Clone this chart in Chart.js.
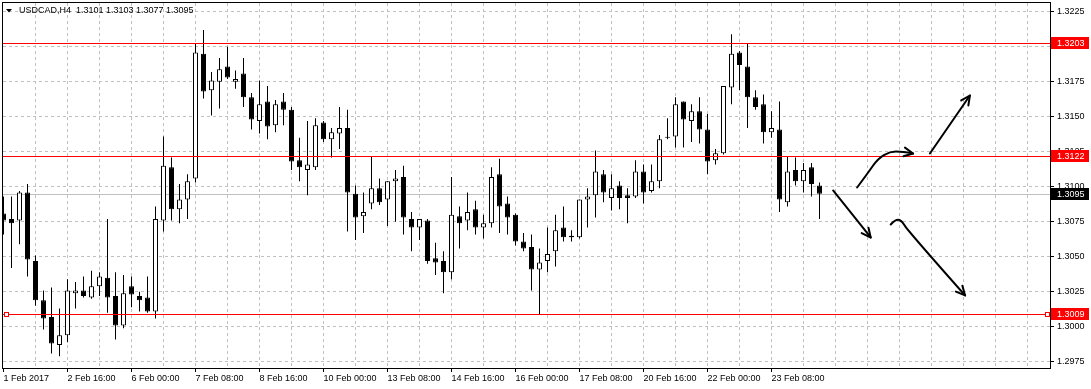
<!DOCTYPE html>
<html><head><meta charset="utf-8">
<script src="https://cdn.jsdelivr.net/npm/chart.js@4.4.1/dist/chart.umd.min.js"></script>
<style>html,body{margin:0;padding:0;background:#fff;}canvas{display:block;}</style>
</head><body>
<canvas id="c" width="1091" height="389"></canvas>
<script>
const symbolTitle = "USDCAD,H4  1.3101 1.3103 1.3077 1.3095";
const xTickLabels = ["1 Feb 2017","2 Feb 16:00","6 Feb 00:00","7 Feb 08:00","8 Feb 16:00","10 Feb 00:00","13 Feb 08:00","14 Feb 16:00","16 Feb 00:00","17 Feb 08:00","20 Feb 16:00","22 Feb 00:00","23 Feb 08:00"];
const yTicks = [1.2975,1.3000,1.3025,1.3050,1.3075,1.3100,1.3125,1.3150,1.3175,1.3200,1.3225];

const opens = [1.3081,1.3077,1.3076,1.3096,1.3047,1.3019,1.3007,1.2987,1.2994,1.3024,
1.3026,1.3021,1.3029,1.3035,1.3022,1.3001,1.3029,1.3022,1.3021,1.3011,
1.3076,1.3114,1.3084,1.3091,1.3106,1.3195,1.3169,1.3175,1.3186,1.3175,
1.3181,1.3164,1.3147,1.3161,1.3144,1.3161,1.3155,1.3119,1.3112,1.3114,
1.3146,1.3134,1.3138,1.3142,1.3095,1.3079,1.3088,1.3099,1.3091,1.3104,
1.3107,1.3077,1.3071,1.3076,1.3049,1.3047,1.3039,1.3079,1.3076,1.3084,
1.3071,1.3074,1.3109,1.3088,1.3080,1.3061,1.3057,1.3041,1.3047,1.3054,
1.3071,1.3065,1.3064,1.3091,1.3094,1.3109,1.3092,1.3101,1.3094,1.3093,
1.3111,1.3097,1.3104,1.3135,1.3136,1.3161,1.3147,1.3154,1.3141,1.3119,
1.3124,1.3171,1.3196,1.3186,1.3164,1.3159,1.3139,1.3141,1.3089,1.3112,
1.3104,1.3114,1.3101];
const highs = [1.3093,1.3093,1.3097,1.3102,1.3051,1.3026,1.3028,1.3013,1.3034,1.3032,
1.3036,1.3040,1.3039,1.3077,1.3039,1.3037,1.3036,1.3025,1.3036,1.3086,
1.3136,1.3121,1.3102,1.3109,1.3202,1.3212,1.3182,1.3192,1.3200,1.3183,
1.3192,1.3167,1.3176,1.3172,1.3162,1.3167,1.3157,1.3135,1.3147,1.3149,
1.3147,1.3142,1.3157,1.3155,1.3101,1.3096,1.3122,1.3106,1.3104,1.3112,
1.3115,1.3082,1.3077,1.3077,1.3060,1.3054,1.3107,1.3086,1.3096,1.3090,
1.3080,1.3114,1.3120,1.3093,1.3081,1.3067,1.3066,1.3056,1.3071,1.3080,
1.3086,1.3069,1.3091,1.3099,1.3126,1.3112,1.3109,1.3104,1.3099,1.3119,
1.3116,1.3116,1.3137,1.3149,1.3164,1.3161,1.3159,1.3164,1.3152,1.3127,
1.3172,1.3209,1.3197,1.3202,1.3169,1.3166,1.3154,1.3161,1.3122,1.3121,
1.3117,1.3117,1.3103];
const lows = [1.3066,1.3042,1.3059,1.3036,1.3015,1.2998,1.2981,1.2979,1.2989,1.3013,
1.3021,1.3020,1.3022,1.3010,1.2991,1.2999,1.3014,1.3011,1.3010,1.3006,
1.3068,1.3076,1.3074,1.3077,1.3103,1.3163,1.3151,1.3156,1.3177,1.3170,
1.3157,1.3141,1.3138,1.3134,1.3139,1.3144,1.3112,1.3104,1.3094,1.3112,
1.3132,1.3121,1.3127,1.3068,1.3062,1.3067,1.3084,1.3087,1.3072,1.3075,
1.3066,1.3054,1.3062,1.3045,1.3037,1.3024,1.3034,1.3056,1.3069,1.3066,
1.3063,1.3071,1.3067,1.3066,1.3058,1.3054,1.3026,1.3009,1.3039,1.3043,
1.3061,1.3061,1.3063,1.3071,1.3078,1.3089,1.3083,1.3084,1.3074,1.3092,
1.3088,1.3096,1.3099,1.3134,1.3128,1.3128,1.3132,1.3131,1.3109,1.3116,
1.3123,1.3159,1.3169,1.3142,1.3155,1.3131,1.3135,1.3082,1.3086,1.3101,
1.3096,1.3093,1.3077];
const closes = [1.3076,1.3074,1.3096,1.3048,1.3019,1.3006,1.2988,1.2994,1.3026,1.3026,
1.3022,1.3029,1.3036,1.3021,1.3001,1.3024,1.3023,1.3019,1.3011,1.3077,
1.3115,1.3084,1.3091,1.3104,1.3196,1.3168,1.3176,1.3184,1.3178,1.3177,
1.3164,1.3148,1.3159,1.3143,1.3159,1.3155,1.3118,1.3114,1.3116,1.3144,
1.3134,1.3139,1.3142,1.3096,1.3078,1.3082,1.3099,1.3089,1.3104,1.3106,
1.3078,1.3071,1.3077,1.3047,1.3046,1.3039,1.3080,1.3074,1.3082,1.3071,
1.3074,1.3107,1.3086,1.3078,1.3061,1.3056,1.3041,1.3046,1.3052,1.3069,
1.3064,1.3064,1.3091,1.3093,1.3111,1.3096,1.3099,1.3092,1.3092,1.3111,
1.3096,1.3104,1.3134,1.3135,1.3159,1.3148,1.3154,1.3141,1.3118,1.3124,
1.3172,1.3195,1.3187,1.3164,1.3157,1.3139,1.3142,1.3091,1.3111,1.3104,
1.3112,1.3102,1.3095];

const levelLines = [1.3203, 1.3122, 1.3009];
const selectedLevel = 1.3009;
const bidPrice = 1.3095;

// hand-drawn arrows, in (bar index, price) coordinates
const arrowPaths = [
  [[103.7,1.30974],[108.4,1.30638]],
  [[106.7,1.30995],[108.1,1.31102],[109.3,1.31202],[110.8,1.31252],[112.3,1.31252],[113.7,1.31238]],
  [[115.8,1.31238],[120.8,1.31652]],
  [[110.9,1.30731],[111.6,1.30774],[112.4,1.30752],[112.9,1.30695],[120.2,1.30224]]
];

const FONT = "'Liberation Sans', Arial, sans-serif";
const gridIdx = [];
for (let i = 0; i <= 128; i += 4) gridIdx.push(i);

const bodyData = opens.map((o, i) => ({x: i, y: [o, closes[i]]}));
const wickData = lows.map((l, i) => ({x: i, y: [l, highs[i]]}));

const overlay = {
  id: 'overlay',
  beforeDatasetsDraw(chart) {
    const {ctx, chartArea: a, scales: {y}} = chart;
    ctx.save();
    const py = Math.round(y.getPixelForValue(bidPrice));
    ctx.fillStyle = '#c0c0c0';
    ctx.fillRect(a.left, py, a.right - a.left, 1);
    ctx.restore();
  },
  afterDatasetsDraw(chart) {
    const {ctx, chartArea: a, scales: {y}} = chart;
    ctx.save();
    ctx.fillStyle = 'rgb(255,0,0)';
    levelLines.forEach(v => {
      const py = Math.round(y.getPixelForValue(v));
      ctx.fillRect(a.left, py, a.right - a.left, 1);
    });
    const sy = Math.round(y.getPixelForValue(selectedLevel));
    [a.left + 1, a.right - 5].forEach(sx => {
      ctx.fillStyle = 'rgb(255,0,0)';
      ctx.fillRect(sx, sy - 2, 5, 5);
      ctx.fillStyle = '#ffffff';
      ctx.fillRect(sx + 1, sy - 1, 3, 3);
    });
    ctx.restore();
  },
  afterDraw(chart) {
    const {ctx, chartArea: a, scales: {x, y}} = chart;
    ctx.save();
    // frame
    ctx.strokeStyle = '#000'; ctx.lineWidth = 1;
    ctx.strokeRect(a.left - 0.5, a.top - 0.5, a.right - a.left + 1, a.bottom - a.top + 1);
    // title
    ctx.fillStyle = '#000';
    ctx.beginPath(); ctx.moveTo(6, 9); ctx.lineTo(12, 9); ctx.lineTo(9, 12.5); ctx.closePath(); ctx.fill();
    ctx.font = '9px ' + FONT; ctx.textBaseline = 'middle'; ctx.textAlign = 'left';
    ctx.fillText(symbolTitle, 19, 11);
    // price tags
    const tag = (v, bg) => {
      const py = Math.round(y.getPixelForValue(v));
      ctx.fillStyle = bg; ctx.fillRect(a.right + 1, py - 6, 38, 12);
      ctx.fillStyle = '#fff'; ctx.fillText(v.toFixed(4), a.right + 7, py + 0.5);
    };
    tag(bidPrice, '#000');
    levelLines.forEach(v => tag(v, 'rgb(255,0,0)'));
    // arrows
    ctx.strokeStyle = '#000'; ctx.lineWidth = 2; ctx.lineCap = 'round'; ctx.lineJoin = 'round';
    arrowPaths.forEach(path => {
      const pts = path.map(p => [x.getPixelForValue(p[0]), y.getPixelForValue(p[1])]);
      ctx.beginPath(); ctx.moveTo(pts[0][0], pts[0][1]);
      if (pts.length === 2) { ctx.lineTo(pts[1][0], pts[1][1]); }
      else {
        for (let i = 1; i < pts.length - 1; i++) {
          const last = i === pts.length - 2;
          const mx = last ? pts[i + 1][0] : (pts[i][0] + pts[i + 1][0]) / 2;
          const my = last ? pts[i + 1][1] : (pts[i][1] + pts[i + 1][1]) / 2;
          ctx.quadraticCurveTo(pts[i][0], pts[i][1], mx, my);
        }
      }
      ctx.stroke();
      const e = pts[pts.length - 1], s = pts[pts.length - 2];
      const ang = Math.atan2(e[1] - s[1], e[0] - s[0]);
      const L = 10, da = 0.45;
      ctx.beginPath();
      ctx.moveTo(e[0] - L * Math.cos(ang - da), e[1] - L * Math.sin(ang - da));
      ctx.lineTo(e[0], e[1]);
      ctx.lineTo(e[0] - L * Math.cos(ang + da), e[1] - L * Math.sin(ang + da));
      ctx.stroke();
    });
    ctx.restore();
  }
};

new Chart(document.getElementById('c'), {
  type: 'bar',
  data: {
    datasets: [
      {
        label: 'body', data: bodyData, order: 0, grouped: false,
        barThickness: 5, maxBarThickness: 5, minBarLength: 1,
        backgroundColor: c => closes[c.dataIndex] >= opens[c.dataIndex] ? '#ffffff' : '#000000',
        borderColor: '#000000', borderWidth: 1, borderSkipped: false, inflateAmount: 0
      },
      {
        label: 'wick', data: wickData, order: 1, grouped: false,
        barThickness: 1, maxBarThickness: 1,
        backgroundColor: '#000000', borderWidth: 0, inflateAmount: 0
      }
    ]
  },
  options: {
    responsive: false, devicePixelRatio: 1, animation: false, events: [],
    layout: {padding: {left: 3, top: 3, right: 0, bottom: 0}},
    plugins: {legend: {display: false}, tooltip: {enabled: false}},
    scales: {
      x: {
        type: 'linear', position: 'bottom', min: -0.0625, max: 130.8125, offset: false,
        afterBuildTicks: s => { s.ticks = gridIdx.map(v => ({value: v})); },
        afterFit: s => { s.height = 21; s.paddingLeft = 0; s.paddingRight = 0; },
        border: {display: false, dash: [3, 3]},
        grid: {
          offset: false,
          color: c => (c.tick && c.tick.value > 0) ? '#c0c0c0' : 'rgba(0,0,0,0)',
          lineWidth: 1, drawTicks: true, tickLength: 4, tickWidth: 1,
          tickColor: c => (c.tick && c.tick.value % 8 === 0 && c.tick.value / 8 < xTickLabels.length) ? '#000' : 'rgba(0,0,0,0)'
        },
        ticks: {
          autoSkip: false, maxRotation: 0, minRotation: 0, align: 'start', padding: 1,
          color: '#000', font: {family: FONT, size: 9},
          callback: v => (v % 8 === 0 && xTickLabels[v / 8] !== undefined) ? xTickLabels[v / 8] : ''
        }
      },
      y: {
        type: 'linear', position: 'right', min: 1.297057, max: 1.323129,
        afterBuildTicks: s => { s.ticks = yTicks.map(v => ({value: v})); },
        afterFit: s => { s.width = 41; s.paddingTop = 0; s.paddingBottom = 0; },
        border: {display: false, dash: [3, 3]},
        grid: {color: '#c0c0c0', lineWidth: 1, drawTicks: true, tickLength: 4, tickWidth: 1, tickColor: '#000'},
        ticks: {padding: 3, color: '#000', font: {family: FONT, size: 9}, callback: v => v.toFixed(4)}
      }
    }
  },
  plugins: [overlay]
});
</script>
</body></html>
